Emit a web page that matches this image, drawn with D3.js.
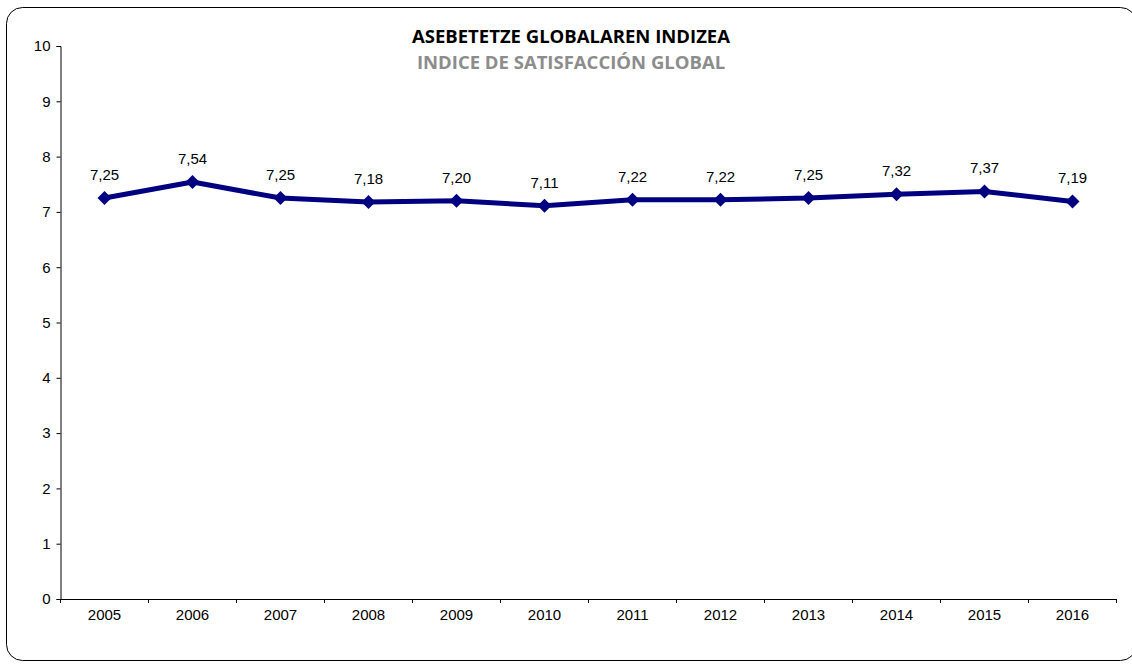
<html>
<head>
<style>
  body { margin: 0; background: #fff; }
  .title { font-family: "Open Sans", "Liberation Sans", sans-serif; font-weight: bold; }
</style>
<script src="https://d3js.org/d3.v7.min.js"></script>
</head>
<body>
<svg width="1132" height="664"></svg>
<script>
const years = ["2005","2006","2007","2008","2009","2010","2011","2012","2013","2014","2015","2016"];
const values = [7.25, 7.54, 7.25, 7.18, 7.20, 7.11, 7.22, 7.22, 7.25, 7.32, 7.37, 7.19];
const yTicks = [0,1,2,3,4,5,6,7,8,9,10];

const svg = d3.select("svg");
const font = "'Liberation Sans', Arial, sans-serif";

// frame
svg.append("rect")
  .attr("x", 6.5).attr("y", 7.5)
  .attr("width", 1130).attr("height", 653)
  .attr("rx", 16).attr("ry", 16)
  .attr("fill", "#fff").attr("stroke", "#000").attr("stroke-width", 1);

const plotL = 60.5, plotR = 1116.5, plotT = 46, plotB = 599;

const x = d3.scaleBand().domain(years).range([plotL, plotR]);
const y = d3.scaleLinear().domain([0, 10]).range([plotB, plotT]);

svg.append("g")
  .attr("transform", "translate(" + plotL + ",0)")
  .call(d3.axisLeft(y).tickValues(yTicks).tickSize(4).tickPadding(6))
  .call(g => g.selectAll("line, path").attr("stroke", "#000"))
  .call(g => g.selectAll("text").style("font-family", font).style("font-size", "15px").attr("fill", "#000"));

const xAxis = svg.append("g")
  .attr("transform", "translate(0," + plotB + ")")
  .call(d3.axisBottom(x).tickSize(0).tickPadding(10))
  .call(g => g.select(".domain").attr("stroke", "#000"))
  .call(g => g.selectAll("text").style("font-family", font).style("font-size", "15px").attr("fill", "#000"));

// ticks at category boundaries
xAxis.selectAll(".sep")
  .data(d3.range(years.length + 1))
  .enter().append("line")
  .attr("x1", i => plotL + i * x.bandwidth())
  .attr("x2", i => plotL + i * x.bandwidth())
  .attr("y1", 0).attr("y2", 4)
  .attr("stroke", "#000");

const cx = (d, i) => x(years[i]) + x.bandwidth() / 2;

svg.append("path")
  .datum(values)
  .attr("fill", "none")
  .attr("stroke", "#000080")
  .attr("stroke-width", 5)
  .attr("stroke-linejoin", "round")
  .attr("d", d3.line().x(cx).y(d => y(d)));

svg.selectAll(".pt")
  .data(values)
  .enter().append("path")
  .attr("transform", (d, i) => "translate(" + cx(d, i) + "," + y(d) + ")")
  .attr("d", "M0,-7L7,0L0,7L-7,0Z")
  .attr("fill", "#000080");

svg.selectAll(".lbl")
  .data(values)
  .enter().append("text")
  .attr("class", "lbl")
  .attr("x", cx)
  .attr("y", d => y(d) - 18)
  .attr("text-anchor", "middle")
  .style("font-family", font).style("font-size", "15px")
  .text(d => d.toFixed(2).replace(".", ","));

svg.append("text")
  .attr("class", "title")
  .attr("x", 571).attr("y", 43)
  .attr("text-anchor", "middle")
  .attr("font-size", 18.5)
  .attr("fill", "#000")
  .text("ASEBETETZE GLOBALAREN INDIZEA");

svg.append("text")
  .attr("class", "title")
  .attr("x", 571).attr("y", 69)
  .attr("text-anchor", "middle")
  .attr("font-size", 18.5)
  .attr("fill", "#8c8c8c")
  .text("INDICE DE SATISFACCIÓN GLOBAL");
</script>
</body>
</html>
